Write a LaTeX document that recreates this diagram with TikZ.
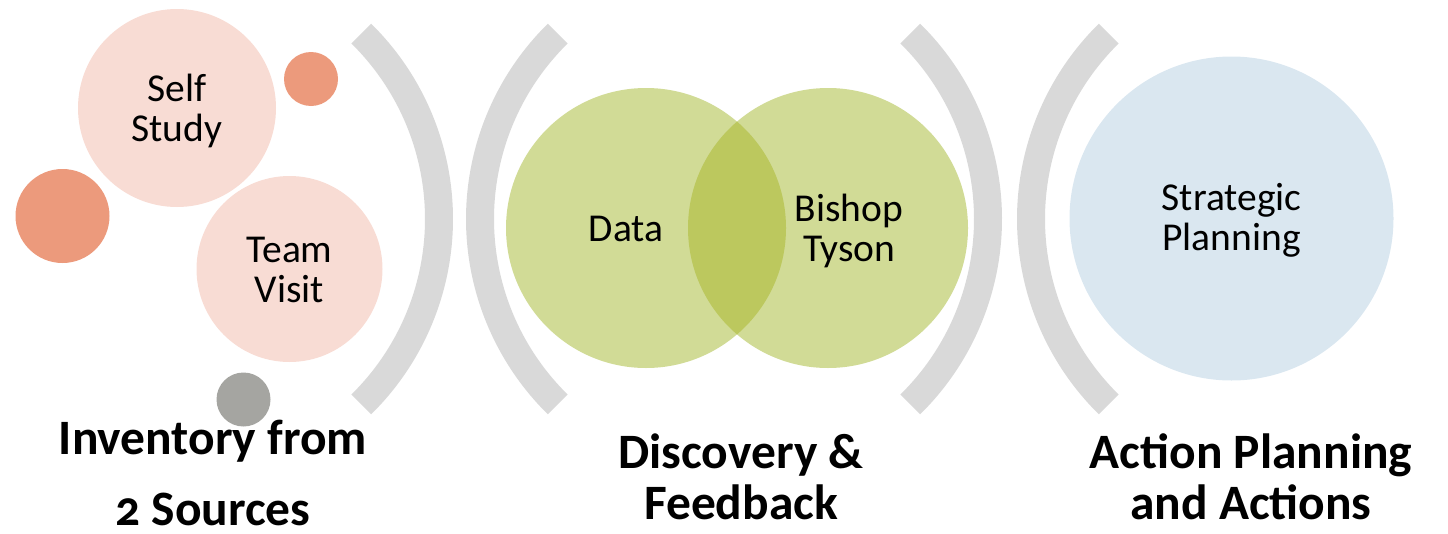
\documentclass[tikz,border=0pt]{standalone}
\usepackage{fontspec}
\setmainfont{Carlito}
\usepackage{tikz}
\usetikzlibrary{positioning}

\definecolor{bracketgray}{HTML}{D9D9D9}
\definecolor{pinkfill}{HTML}{F8DCD4}
\definecolor{coralfill}{HTML}{EC9A7C}
\definecolor{stonefill}{HTML}{A5A5A1}
\definecolor{limefill}{HTML}{D1DB96}
\definecolor{limedark}{HTML}{BCC85E}
\definecolor{skyfill}{HTML}{DAE7F0}

\begin{document}
\begin{tikzpicture}[x=1pt, y=-1pt,
    bubble/.style={circle, inner sep=0pt},
    bubbletext/.style={align=center, inner sep=0pt, font=\fontsize{39.5}{40}\selectfont},
    bracket/.style={line width=28pt, bracketgray},
    heading/.style={align=center, inner sep=0pt, font=\fontsize{49.5}{51}\selectfont\bfseries\addfontfeatures{Numbers=OldStyle}}]
\useasboundingbox (0,0) rectangle (1448,533);

% the four brackets
\coordinate (b1) at (179,219);
\coordinate (b2) at (740,219);
\coordinate (b3) at (728,219);
\coordinate (b4) at (1291,219);
\draw[bracket] ([shift={(-45.5:260pt)}]b1) arc[start angle=-45.5, end angle=45.5, radius=260pt];
\draw[bracket] ([shift={(134.5:260pt)}]b2) arc[start angle=134.5, end angle=225.5, radius=260pt];
\draw[bracket] ([shift={(-45.5:260pt)}]b3) arc[start angle=-45.5, end angle=45.5, radius=260pt];
\draw[bracket] ([shift={(134.5:260pt)}]b4) arc[start angle=134.5, end angle=225.5, radius=260pt];

% inventory bubbles
\node[bubble, fill=pinkfill, minimum size=198pt] (self) at (177,108) {};
\node[bubble, fill=coralfill, minimum size=54pt] (dotA) at (311,79) {};
\node[bubble, fill=coralfill, minimum size=94pt] (dotB) at (62.5,216) {};
\node[bubble, fill=pinkfill, minimum size=186pt] (team) at (289.5,269) {};
\node[bubble, fill=stonefill, minimum size=54pt] (dotC) at (243.5,399.5) {};
\node[bubbletext] (selftext) at (177,111) {Self\\Study};
\node[bubbletext] (teamtext) at (289.5,270) {Team\\Visit};

% venn
\node[bubble, fill=limefill, minimum size=280pt] (data) at (646,228) {};
\node[bubble, fill=limefill, minimum size=280pt] (bishop) at (828,228) {};
\begin{scope}
\clip (data.center) circle (140pt);
\fill[limedark] (bishop.center) circle (140pt);
\end{scope}
\node[bubbletext] (datatext) at (626,229) {Data};
\node[bubbletext] (bishoptext) at (849,230.5) {Bishop\\Tyson};

% planning
\node[bubble, fill=skyfill, minimum size=324pt] (plan) at (1231.5,218.5) {};
\node[bubbletext] (plantext) at (1231.5,220.5) {Strategic\\Planning};

% headings
\node[heading] (inventory) at (213,473) {Inventory from\\[20pt]2 Sources};
\node[heading] (discovery) at (741,477) {Discovery \&\\Feedback};
\node[heading] (action) at (1251,476.5) {Action Planning\\and Actions};
\end{tikzpicture}
\end{document}
